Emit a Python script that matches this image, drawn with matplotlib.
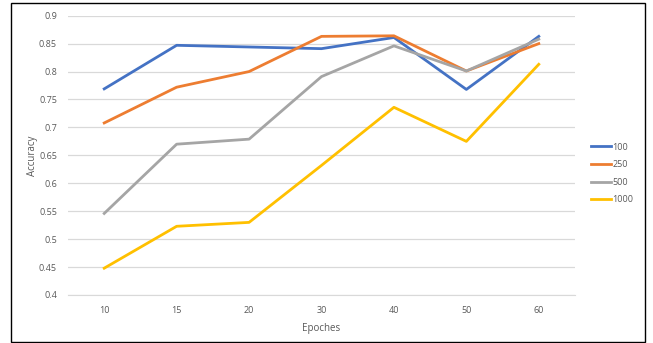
import matplotlib
matplotlib.use("Agg")
import matplotlib.pyplot as plt
from matplotlib.patches import Rectangle

epochs = ["10", "15", "20", "30", "40", "50", "60"]
acc_100 = [0.769, 0.847, 0.844, 0.841, 0.861, 0.768, 0.863]
acc_250 = [0.708, 0.772, 0.800, 0.863, 0.864, 0.801, 0.850]
acc_500 = [0.546, 0.670, 0.679, 0.791, 0.846, 0.801, 0.858]
acc_1000 = [0.448, 0.523, 0.530, 0.632, 0.736, 0.675, 0.813]

serie = [("100", acc_100, "#4472C4"), ("250", acc_250, "#ED7D31"),
         ("500", acc_500, "#A5A5A5"), ("1000", acc_1000, "#FFC000")]

plt.rcParams["font.family"] = ["Open Sans", "DejaVu Sans"]
fig = plt.figure(figsize=(6.53, 3.43), dpi=100)
ax = fig.add_axes([68 / 653, 1 - 295 / 343, (575 - 68) / 653, (295 - 15.7) / 343])

x = range(len(epochs))
for nazwa, y, kolor in serie:
    ax.plot(x, y, color=kolor, lw=2, label=nazwa)

ax.set_xlim(-0.5, len(epochs) - 0.5)
ax.set_ylim(0.4, 0.9)
ax.set_xticks(list(x))
ax.set_xticklabels(epochs)
ax.set_yticks([0.4 + 0.05 * i for i in range(11)])
ax.set_yticklabels(["0.4", "0.45", "0.5", "0.55", "0.6", "0.65", "0.7",
                    "0.75", "0.8", "0.85", "0.9"])
ax.grid(axis="y", color="#d9d9d9", lw=0.9)
ax.set_axisbelow(True)
for s in ["top", "right", "left"]:
    ax.spines[s].set_visible(False)
ax.spines["bottom"].set_color("#d9d9d9")
ax.tick_params(length=0, labelsize=6.5, colors="#595959", pad=8)
ax.set_xlabel("Epoches", fontsize=7, color="#595959", labelpad=6)
ax.set_ylabel("Accuracy", fontsize=7, color="#595959")
ax.yaxis.set_label_coords(-30 / 507, 0.5)

ax.legend(loc="center left", bbox_to_anchor=(1.015, 0.435), frameon=False,
          fontsize=6.5, handlelength=2.3, handletextpad=0.1, labelspacing=0.95,
          labelcolor="#595959")

fig.patches.append(Rectangle((11 / 653, 1 / 343), (645 - 11) / 653, (339) / 343,
                             transform=fig.transFigure, fill=False,
                             edgecolor="black", lw=1))

fig.savefig("out.png", dpi=100)
